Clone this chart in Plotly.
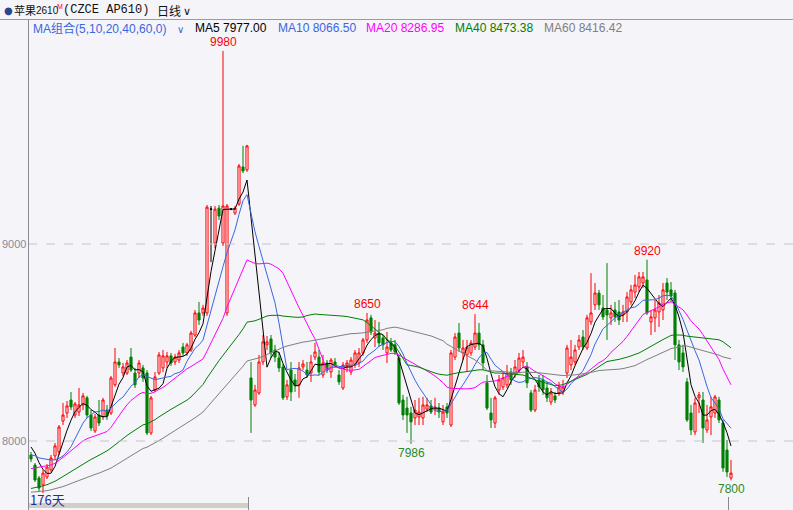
import plotly.graph_objects as go
import pandas as pd

# ---------------- data ----------------
opens = [7929, 7878, 7812, 7777, 7817, 7853, 7924, 7944, 8101, 8142,
         8208, 8132, 8147, 8183, 8219, 8132, 8051, 8132, 8122, 8157,
         8142, 8285, 8401, 8345, 8345, 8426, 8345, 8345, 8371, 8345,
         8041, 8259, 8345, 8371, 8401, 8432, 8401, 8411, 8477, 8447,
         8462, 8538, 8650, 8650, 8650, 9177, 9005, 9182, 9005, 8650,
         9177, 9157, 9203, 9391, 9376, 8320, 8183, 8244, 8401, 8488,
         8518, 8462, 8421, 8376, 8224, 8360, 8310, 8285, 8376, 8360,
         8345, 8426, 8426, 8335, 8396, 8350, 8401, 8335, 8269, 8376,
         8350, 8386, 8396, 8447, 8513, 8625, 8523, 8548, 8523, 8447,
         8498, 8488, 8421, 8208, 8167, 8142, 8117, 8122, 8117, 8162,
         8178, 8157, 8167, 8097, 8173, 8081, 8426, 8548, 8447, 8437,
         8447, 8477, 8548, 8488, 8295, 8142, 8091, 8259, 8274, 8285,
         8350, 8345, 8360, 8401, 8376, 8244, 8157, 8310, 8310, 8269,
         8198, 8229, 8244, 8249, 8345, 8386, 8401, 8477, 8528, 8472,
         8604, 8691, 8751, 8675, 8665, 8625, 8665, 8655, 8640, 8655,
         8706, 8756, 8782, 8802, 8817, 8604, 8625, 8655, 8665, 8802,
         8767, 8751, 8488, 8447, 8300, 8142, 8046, 8219, 8208, 8056,
         8122, 8142, 8208, 8091, 7954, 7812]

highs = [7944, 7888, 7822, 7853, 7883, 7929, 7990, 8081, 8193, 8203,
         8249, 8198, 8269, 8244, 8229, 8157, 8137, 8208, 8219, 8183,
         8330, 8472, 8421, 8396, 8411, 8472, 8371, 8411, 8386, 8360,
         8229, 8350, 8452, 8462, 8452, 8447, 8442, 8462, 8498, 8498,
         8559, 8665, 8706, 8691, 9198, 9193, 9193, 9198, 9980, 9203,
         9182, 9193, 9406, 9498, 9503, 8401, 8285, 8437, 8538, 8533,
         8538, 8488, 8452, 8391, 8310, 8401, 8340, 8401, 8411, 8401,
         8437, 8498, 8462, 8437, 8411, 8421, 8421, 8360, 8401, 8411,
         8426, 8462, 8472, 8523, 8650, 8640, 8614, 8604, 8538, 8553,
         8523, 8513, 8437, 8234, 8224, 8173, 8208, 8219, 8224, 8219,
         8208, 8219, 8193, 8183, 8193, 8462, 8548, 8599, 8513, 8513,
         8513, 8644, 8599, 8513, 8335, 8219, 8229, 8335, 8350, 8386,
         8371, 8411, 8447, 8462, 8401, 8259, 8285, 8335, 8335, 8300,
         8269, 8249, 8300, 8310, 8488, 8513, 8488, 8538, 8563, 8640,
         8852, 8802, 8767, 8741, 8903, 8691, 8706, 8716, 8691, 8756,
         8792, 8843, 8858, 8858, 8920, 8665, 8716, 8741, 8802, 8827,
         8807, 8767, 8513, 8488, 8320, 8183, 8219, 8249, 8249, 8183,
         8224, 8234, 8224, 8107, 8005, 7904]

lows = [7893, 7792, 7741, 7736, 7807, 7843, 7904, 7929, 8081, 8117,
        8157, 8117, 8127, 8157, 8117, 8051, 8041, 8076, 8107, 8107,
        8132, 8275, 8371, 8330, 8335, 8350, 8269, 8320, 8300, 8030,
        8030, 8249, 8335, 8350, 8371, 8381, 8386, 8396, 8432, 8432,
        8452, 8528, 8589, 8635, 8635, 8908, 8979, 9122, 8990, 8635,
        9172, 9147, 9193, 9360, 9366, 8041, 8173, 8234, 8386, 8462,
        8421, 8401, 8350, 8208, 8208, 8203, 8249, 8219, 8360, 8320,
        8300, 8411, 8335, 8320, 8345, 8320, 8371, 8285, 8259, 8350,
        8335, 8371, 8376, 8432, 8498, 8538, 8477, 8477, 8462, 8396,
        8452, 8437, 8183, 8107, 8041, 7986, 8081, 8081, 8081, 8147,
        8137, 8132, 8117, 8081, 8117, 8071, 8411, 8452, 8411, 8350,
        8432, 8462, 8462, 8360, 8157, 8066, 8066, 8234, 8259, 8269,
        8285, 8320, 8345, 8376, 8269, 8147, 8147, 8249, 8234, 8198,
        8183, 8193, 8229, 8234, 8320, 8360, 8386, 8462, 8462, 8462,
        8589, 8665, 8665, 8614, 8513, 8589, 8604, 8589, 8604, 8604,
        8691, 8726, 8756, 8777, 8640, 8538, 8553, 8579, 8614, 8716,
        8706, 8411, 8360, 8350, 8097, 8030, 8030, 8142, 7990, 8041,
        8030, 8117, 8091, 7843, 7817, 7800]

closes = [7909, 7802, 7761, 7837, 7868, 7914, 7975, 8071, 8132, 8178,
          8173, 8188, 8183, 8229, 8132, 8066, 8122, 8091, 8208, 8127,
          8320, 8401, 8386, 8376, 8396, 8360, 8285, 8396, 8320, 8041,
          8219, 8325, 8437, 8432, 8432, 8396, 8426, 8447, 8447, 8488,
          8548, 8650, 8614, 8675, 9187, 9177, 9177, 9142, 9193, 9193,
          9177, 9182, 9396, 9371, 9498, 8208, 8259, 8401, 8503, 8503,
          8447, 8426, 8371, 8219, 8285, 8249, 8280, 8371, 8391, 8335,
          8401, 8452, 8350, 8396, 8360, 8411, 8386, 8300, 8386, 8396,
          8411, 8447, 8447, 8513, 8614, 8553, 8548, 8498, 8488, 8477,
          8462, 8452, 8193, 8132, 8132, 8097, 8157, 8147, 8183, 8183,
          8147, 8173, 8147, 8147, 8142, 8447, 8528, 8472, 8472, 8477,
          8498, 8548, 8488, 8396, 8167, 8107, 8219, 8310, 8320, 8345,
          8310, 8376, 8421, 8426, 8295, 8157, 8259, 8274, 8259, 8219,
          8244, 8208, 8274, 8274, 8472, 8426, 8462, 8513, 8477, 8625,
          8650, 8751, 8691, 8630, 8640, 8650, 8630, 8614, 8655, 8731,
          8767, 8792, 8833, 8833, 8650, 8630, 8665, 8701, 8767, 8756,
          8736, 8488, 8401, 8376, 8107, 8056, 8193, 8234, 8066, 8107,
          8173, 8224, 8107, 7863, 7843, 7837]

# closes before the visible window (estimated from where the MA lines start)
history_closes = [7720, 7690, 7710, 7680, 7650, 7700, 7730, 7760, 7720, 7690,
                  7670, 7700, 7740, 7710, 7680, 7660, 7700, 7730, 7710, 7690,
                  7650, 7620, 7600, 7630, 7610, 7580, 7600, 7640, 7660, 7630,
                  7650, 7680, 7700, 7670, 7690, 7710, 7680, 7700, 7720, 7740,
                  7730, 7760, 7750, 7780, 7800, 7790, 7820, 7800, 7830, 7840,
                  7850, 7870, 7880, 7910, 7940,
                  7960, 8000, 8010, 7970]

ma_periods = [5, 10, 20, 40, 60]
ma_names = ["MA5", "MA10", "MA20", "MA40", "MA60"]
ma_last_text = ["7977.00", "8066.50", "8286.95", "8473.38", "8416.42"]
ma_colors = ["#000000", "#3a66e0", "#ff00ff", "#008000", "#808080"]

# extreme-value marks: (index, value, kind)
marks = [(48, 9980, "high"), (84, 8650, "high"), (111, 8644, "high"),
         (154, 8920, "high"), (95, 7986, "low"), (175, 7800, "low")]

grid_levels = [9000, 8000]
day_count_label = "176天"

# ---------------- figure ----------------
W, H = 793, 510
BG = "#f4f4f9"
RED = "#ff0000"
GREEN = "#008000"


def pxx(x):
    return x / W


def pxy(y):
    return 1 - y / H


n = len(closes)
xs = list(range(n))
up = [i for i in xs if closes[i] > opens[i]]
dn = [i for i in xs if closes[i] < opens[i]]
fl = [i for i in xs if closes[i] == opens[i]]


def candles(idx, color, fill):
    return go.Candlestick(
        x=idx,
        open=[opens[i] for i in idx], high=[highs[i] for i in idx],
        low=[lows[i] for i in idx], close=[closes[i] for i in idx],
        increasing=dict(line=dict(color=color, width=1), fillcolor=fill),
        decreasing=dict(line=dict(color=color, width=1), fillcolor=fill),
        whiskerwidth=0, showlegend=False, hoverinfo="skip")


fig = go.Figure()
fig.add_trace(candles(up, RED, "rgba(0,0,0,0)"))
fig.add_trace(candles(dn, GREEN, GREEN))
fig.add_trace(candles(fl, "#000000", "#000000"))

series = pd.Series(history_closes + closes, dtype=float)
nh = len(history_closes)
for p, c in zip(ma_periods, ma_colors):
    ma = series.rolling(p).mean().iloc[nh:].tolist()
    fig.add_trace(go.Scatter(x=xs, y=ma, mode="lines",
                             line=dict(color=c, width=1),
                             showlegend=False, hoverinfo="skip"))

x0, x1 = -7.75, 190.5
y0, y1 = 7649.7, 10238.5

shapes = []
for lv in grid_levels:
    shapes.append(dict(type="line", xref="x", yref="y", x0=-0.75, x1=x1,
                       y0=lv, y1=lv, line=dict(color="#c4c4cc", width=1, dash="dash")))
shapes.append(dict(type="line", xref="paper", yref="paper", x0=0, x1=1,
                   y0=pxy(19.5), y1=pxy(19.5), line=dict(color="#9a9aa2", width=1)))
shapes.append(dict(type="line", xref="paper", yref="paper", x0=pxx(28.5), x1=pxx(28.5),
                   y0=pxy(19.5), y1=0, line=dict(color="#8a8a92", width=1)))
shapes.append(dict(type="rect", xref="paper", yref="paper", x0=pxx(29), x1=pxx(248),
                   y0=pxy(508), y1=pxy(503), fillcolor="#cfcfc6", line=dict(width=0)))
for tx in [248.5, 728.5]:
    shapes.append(dict(type="line", xref="paper", yref="paper", x0=pxx(tx), x1=pxx(tx),
                       y0=pxy(497), y1=0, line=dict(color="#8a8a92", width=1)))

ann = []
FONT = "Liberation Sans, Noto Sans CJK SC"
CJK = "Noto Sans CJK SC"


def txt(x, y, s, color, size=12, family=FONT, anchor="left"):
    ann.append(dict(xref="paper", yref="paper", x=pxx(x), y=pxy(y), text=s,
                    showarrow=False, xanchor=anchor, yanchor="middle", borderpad=0,
                    font=dict(color=color, size=size, family=family)))


# header
txt(3, 10, "●", "#2b4590", 10, "DejaVu Sans")
txt(13, 10, "苹果", "#111111", 11, CJK)
txt(35, 10, "2610", "#111111", 10, "Liberation Sans")
txt(56, 7, "M", RED, 7, "Liberation Sans")
txt(62, 10, "(CZCE AP610)", "#111111", 12, "Liberation Mono")
txt(156, 10, "日线", "#111111", 12, CJK)
txt(182, 11, "∨", "#111111", 11, "DejaVu Sans")

# MA legend row
txt(32, 28, "MA组合(5,10,20,40,60,0)", "#3a66e0", 12, FONT)
txt(176, 29, "∨", "#3a66e0", 10, "DejaVu Sans")
legend_x = [194, 277, 365, 454, 543]
for lx, nm, val, c in zip(legend_x, ma_names, ma_last_text, ma_colors):
    txt(lx, 28, f"{nm} {val}", c, 12, FONT)

# y tick labels
for lv in grid_levels:
    ann.append(dict(xref="paper", yref="y", x=pxx(26.5), y=lv, text=f"{lv}", showarrow=False,
                    xanchor="right", yanchor="middle", borderpad=0,
                    font=dict(color="#8a8a9a", size=11, family=FONT)))

# extreme marks
for i, v, kind in marks:
    ann.append(dict(xref="x", yref="y", x=i, y=v, text=f"{v}", showarrow=False,
                    xanchor="center", yanchor="bottom" if kind == "high" else "top",
                    font=dict(color=RED if kind == "high" else "#2a8a2a",
                              size=12, family=FONT)))

# bottom day count
txt(29, 499, day_count_label, "#1f2f8f", 13, CJK)

fig.update_layout(
    width=W, height=H, margin=dict(l=0, r=0, t=0, b=0),
    paper_bgcolor=BG, plot_bgcolor=BG,
    xaxis=dict(range=[x0, x1], visible=False, fixedrange=True,
               rangeslider=dict(visible=False)),
    yaxis=dict(range=[y0, y1], visible=False, fixedrange=True),
    boxgap=0.25,
    shapes=shapes, annotations=ann, showlegend=False,
)

fig.write_html("out.html", config={"displayModeBar": False, "staticPlot": True},
               post_script="document.body.style.margin='0';document.body.style.overflow='hidden';")
